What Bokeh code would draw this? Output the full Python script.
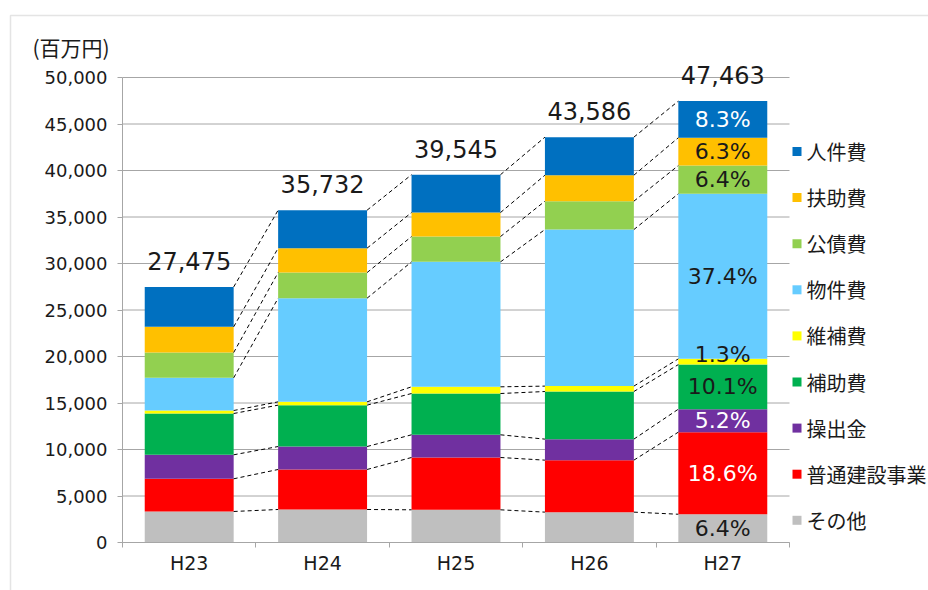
import numpy as np
from bokeh.plotting import figure
from bokeh.models import (ColumnDataSource, Range1d, FixedTicker, NumeralTickFormatter,
                          LabelSet, Label, BoxAnnotation)
from bokeh.embed import file_html
from bokeh.resources import INLINE
from bokeh.core.properties import value

# ---------------- data ----------------
years = ["H23", "H24", "H25", "H26", "H27"]
categories = ["その他", "普通建設事業", "操出金", "補助費", "維補費", "物件費", "公債費", "扶助費", "人件費"]
colors = ["#BFBFBF", "#FF0000", "#7030A0", "#00B050", "#FFFF00", "#66CCFF", "#92D050", "#FFC000", "#0070C0"]

sonota    = [3335, 3550, 3515, 3265, 3038]
futsu     = [3515, 4300, 5625, 5590, 8828]
kuridashi = [2580, 2470, 2440, 2260, 2468]
hojo      = [4440, 4450, 4440, 5120, 4794]
ihoshu    = [320, 355, 720, 580, 617]
bukken    = [3515, 11145, 13435, 16835, 17751]
kosai     = [2720, 2755, 2720, 3050, 3038]
fujo      = [2765, 2625, 2580, 2795, 2990]
jinken    = [4285, 4082, 4070, 4091, 3939]

series = [sonota, futsu, kuridashi, hojo, ihoshu, bukken, kosai, fujo, jinken]
y_ticks = list(range(0, 50001, 5000))

# ---------------- layout constants (pixels) ----------------
W, H = 928, 590
PL, PR, PT, PB = 122, 789, 77, 542      # plot area
YMAX = 50000
NCAT = len(years)
BAR_W = 2 / 3

def dx(px):
    return (px - PL) / (PR - PL) * NCAT

def dy(py):
    return (PB - py) / (PB - PT) * YMAX

JP = "Noto Sans CJK JP"
NUM = "DejaVu Sans"
GRID = "#a6a6a6"
TXT = "#1a1a1a"

xs = [i + 0.5 for i in range(NCAT)]
keys = [f"s{k}" for k in range(len(series))]
data = {"x": xs}
for k, s in zip(keys, series):
    data[k] = s
src = ColumnDataSource(data)

p = figure(width=W, height=H,
           x_range=Range1d(dx(0), dx(W)), y_range=Range1d(dy(H), dy(0)),
           output_backend="svg", toolbar_location=None, title=None,
           min_border=0, min_border_left=0, min_border_right=0,
           min_border_top=0, min_border_bottom=0)
p.outline_line_color = None
p.background_fill_color = "white"
p.border_fill_color = "white"
p.xgrid.visible = False
p.ygrid.visible = False

# horizontal gridlines over plot area only
p.segment(x0=[0] * len(y_ticks), x1=[NCAT] * len(y_ticks), y0=y_ticks, y1=y_ticks,
          line_color=GRID, line_width=1)

p.vbar_stack(keys, x="x", width=BAR_W, color=colors, line_color=None, source=src)

# dashed connectors between adjacent bars
vals = np.array(series, dtype=float)  # (9, 5)
cum = np.cumsum(vals, axis=0)
x0s, y0s, x1s, y1s = [], [], [], []
for i in range(NCAT - 1):
    for k in range(len(series)):
        x0s.append(xs[i] + BAR_W / 2)
        x1s.append(xs[i + 1] - BAR_W / 2)
        y0s.append(cum[k, i])
        y1s.append(cum[k, i + 1])
p.segment(x0=x0s, y0=y0s, x1=x1s, y1=y1s, line_color="black", line_width=1, line_dash="4 3")

# axes at fixed locations
yax = p.yaxis[0]
yax.fixed_location = 0
yax.bounds = (0, YMAX)
yax.ticker = FixedTicker(ticks=y_ticks)
yax.formatter = NumeralTickFormatter(format="0,0")
yax.axis_line_color = GRID
yax.major_tick_line_color = GRID
yax.major_tick_out = 5
yax.major_tick_in = 0
yax.minor_tick_line_color = None
yax.major_label_standoff = 10
yax.major_label_text_font = NUM
yax.major_label_text_font_size = "18px"
yax.major_label_text_color = TXT

xax = p.xaxis[0]
xax.fixed_location = 0
xax.bounds = (0, NCAT)
xax.ticker = FixedTicker(ticks=xs, minor_ticks=list(range(NCAT + 1)))
xax.major_label_overrides = {x: y for x, y in zip(xs, years)}
xax.axis_line_color = GRID
xax.major_tick_line_color = None
xax.major_tick_out = 0
xax.major_tick_in = 0
xax.minor_tick_line_color = GRID
xax.minor_tick_out = 5
xax.minor_tick_in = 0
xax.major_label_standoff = 4
xax.major_label_text_font = NUM
xax.major_label_text_font_size = "19px"
xax.major_label_text_color = TXT

# totals above bars
totals = cum[-1]
tsrc = ColumnDataSource(dict(x=xs, y=list(totals), t=[f"{int(v):,}" for v in totals]))
p.add_layout(LabelSet(x="x", y="y", text="t", source=tsrc, text_align="center",
                      text_baseline="alphabetic", y_offset=17, text_font=value(NUM),
                      text_font_size="24px", text_color=TXT))

# percentages in last bar
last = vals[:, -1]
last_total = last.sum()
bottoms = cum[:, -1] - last
white_text = {"人件費", "操出金", "普通建設事業"}
psrc = ColumnDataSource(dict(
    x=[xs[-1]] * len(categories),
    y=list(bottoms + last / 2),
    t=[f"{v / last_total * 100:.1f}%" for v in last],
    c=["white" if c in white_text else TXT for c in categories],
    off=[7 if c == "維補費" else 0 for c in categories],
))
p.add_layout(LabelSet(x="x", y="y", text="t", source=psrc, text_align="center",
                      text_baseline="middle", y_offset="off", text_color="c",
                      text_font=value(NUM), text_font_size="22px"))

# unit label
p.add_layout(Label(x=dx(32), y=dy(46), text="(百万円)", text_baseline="middle",
                   text_font=JP, text_font_size="21px", text_color=TXT))

# legend (top to bottom = reversed stacking order)
for j, (cat, col) in enumerate(zip(categories[::-1], colors[::-1])):
    cy = 151 + 46.1 * j
    p.add_layout(BoxAnnotation(left=dx(792), right=dx(801), top=dy(cy - 4.5), bottom=dy(cy + 4.5),
                               fill_color=col, fill_alpha=1, line_color=None))
    p.add_layout(Label(x=dx(806), y=dy(cy), text=cat, text_baseline="middle",
                       text_font=JP, text_font_size="20px", text_color=TXT))

# outer chart frame
p.add_layout(BoxAnnotation(left=dx(10), right=dx(3000), top=dy(15), bottom=dy(3000),
                           fill_alpha=0, line_color=GRID, line_width=1.5))

open("out.html", "w").write(file_html(p, INLINE))
